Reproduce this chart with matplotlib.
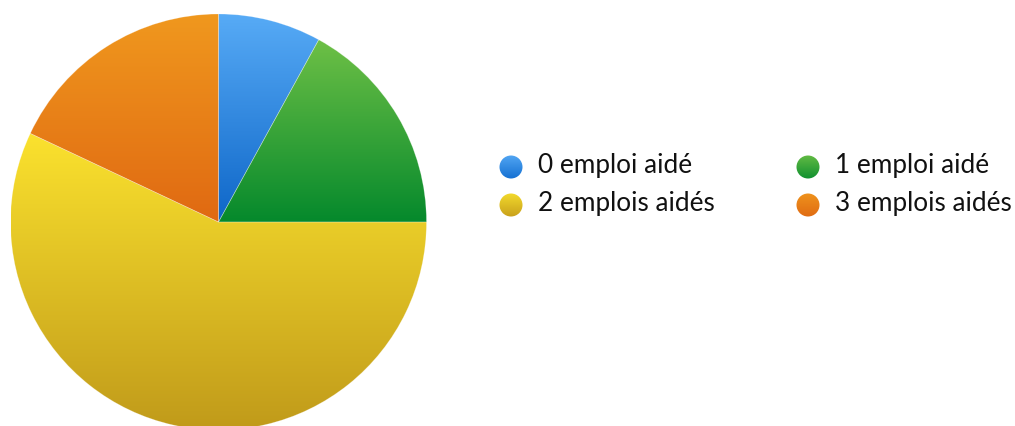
import numpy as np
import matplotlib
matplotlib.use("Agg")
import matplotlib.pyplot as plt
from matplotlib.colors import to_rgb
from matplotlib.patches import Circle

# Share of respondents by number of subsidised jobs
labels = ["0 emploi aidé", "1 emploi aidé", "2 emplois aidés", "3 emplois aidés"]
shares = [8, 17, 57, 18]

# Vertical gradients (top colour, bottom colour) for each slice
slice_grad = [("#57abf6", "#0e66c8"),
              ("#6ec046", "#05892c"),
              ("#fbe22e", "#c09a1a"),
              ("#f0981e", "#e06912")]
legend_grad = [("#52a6f3", "#1470d2"),
               ("#63bb44", "#0f902f"),
               ("#f3da2c", "#c8a01c"),
               ("#ef931d", "#e06b12")]

W, H = 1015, 426
fig = plt.figure(figsize=(W / 100, H / 100), dpi=100)
fig.patch.set_facecolor("white")


def gradient(top, bottom, n=256):
    t = np.linspace(0, 1, n)[:, None]
    a, b = np.array(to_rgb(top)), np.array(to_rgb(bottom))
    return (a * (1 - t) + b * t)[:, None, :]


# Pie axes: centre (218.5, 222) px, radius 208 px
cx, cy, r = 218.5, 222.0, 208.0
ax = fig.add_axes([(cx - r) / W, (H - cy - r) / H, 2 * r / W, 2 * r / H])
wedges, _ = ax.pie(shares, startangle=90, counterclock=False, radius=1,
                   colors=[g[1] for g in slice_grad],
                   wedgeprops=dict(linewidth=0.5, edgecolor=(1, 1, 1, 0.3)))
ax.set_xlim(-1, 1)
ax.set_ylim(-1, 1)
ax.set_aspect("auto")
ax.axis("off")

for w, (top, bot) in zip(wedges, slice_grad):
    verts = w.get_path().vertices
    verts = w.get_patch_transform().transform(verts)
    x0, y0 = verts.min(axis=0)
    x1, y1 = verts.max(axis=0)
    im = ax.imshow(gradient(top, bot), extent=[x0, x1, y0, y1], origin="upper",
                   aspect="auto", interpolation="bilinear", zorder=w.get_zorder() - 0.1)
    im.set_clip_path(w)
    w.set_facecolor("none")

ax.set_xlim(-1, 1)
ax.set_ylim(-1, 1)

# Legend drawn in pixel coordinates
lax = fig.add_axes([0, 0, 1, 1], facecolor="none")
lax.set_xlim(0, W)
lax.set_ylim(H, 0)
lax.axis("off")

positions = [(511, 167), (808, 167), (511, 205), (808, 205)]
for (px, py), lab, (top, bot) in zip(positions, labels, legend_grad):
    c = Circle((px, py), 11.5, facecolor="none", edgecolor="none")
    lax.add_patch(c)
    im = lax.imshow(gradient(top, bot), extent=[px - 12, px + 12, py + 12, py - 12],
                    origin="upper", aspect="auto", interpolation="bilinear")
    im.set_clip_path(c)
    lax.text(px + 27, py - 1, lab, fontsize=18.8, family="Lato", color="#111111",
             va="center", ha="left")

lax.set_xlim(0, W)
lax.set_ylim(H, 0)

fig.savefig("out.png", dpi=100, facecolor="white")
